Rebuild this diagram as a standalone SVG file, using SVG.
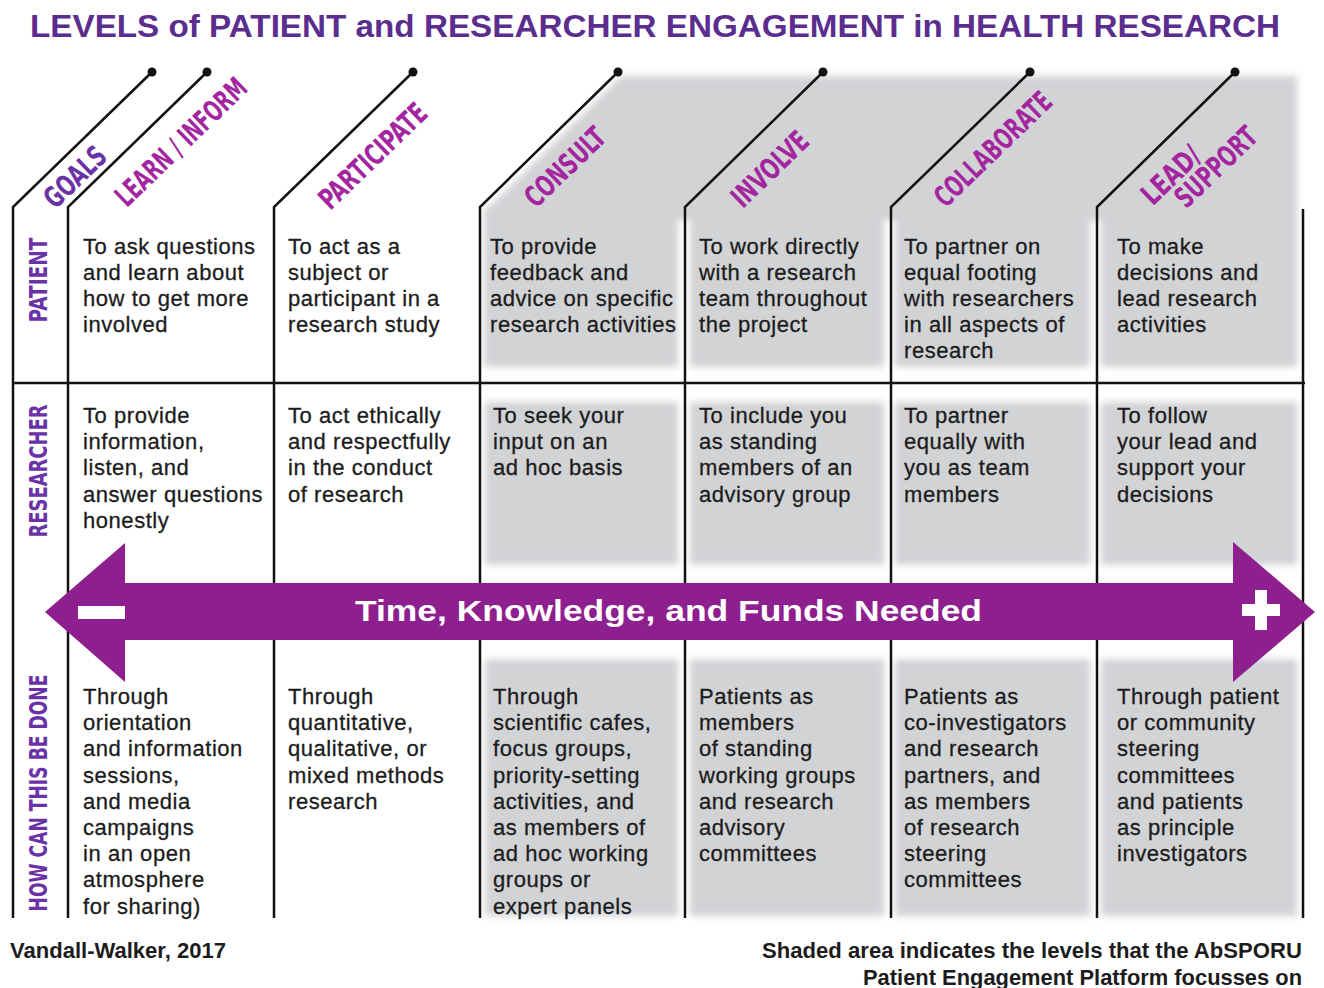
<svg xmlns="http://www.w3.org/2000/svg" width="1324" height="988" viewBox="0 0 1324 988">
<defs>
<filter id="soft" x="-5%" y="-5%" width="110%" height="110%"><feGaussianBlur stdDeviation="3.5"/></filter>
<style>
.body{font-family:"Liberation Sans",Arial,sans-serif;font-size:22px;letter-spacing:0.55px;fill:#1c1c1c;stroke:#1c1c1c;stroke-width:0.3}
.row{font-family:"DejaVu Sans Condensed","DejaVu Sans",sans-serif;font-weight:bold;font-size:25px;fill:#6a32a6}
.col{font-family:"DejaVu Sans Condensed","DejaVu Sans",sans-serif;font-weight:bold;font-size:29px;fill:#a3259f}
.ln{stroke:#111;stroke-width:2.5;fill:none}
.dot{fill:#111}
.foot{font-family:"Liberation Sans",Arial,sans-serif;font-weight:bold;font-size:21.5px;fill:#1c1c1c}
</style>
</defs>
<rect width="1324" height="988" fill="#fff"/>
<text x="30" y="37" font-family="Liberation Sans,Arial,sans-serif" font-weight="bold" font-size="32" fill="#5b2d8e" textLength="1250" lengthAdjust="spacingAndGlyphs">LEVELS of PATIENT and RESEARCHER ENGAGEMENT in HEALTH RESEARCH</text>

<g id="shading" fill="#d2d3d5" filter="url(#soft)">
<polygon points="484,212 621,76 1297,76 1297,220 484,220"/>
<rect x="484" y="207" width="194" height="160"/>
<rect x="690" y="207" width="194" height="160"/>
<rect x="895" y="207" width="195" height="160"/>
<rect x="1101" y="207" width="196" height="160"/>
<rect x="485" y="402" width="193" height="163"/>
<rect x="690" y="402" width="194" height="163"/>
<rect x="895" y="402" width="195" height="163"/>
<rect x="1101" y="402" width="196" height="163"/>
<rect x="485" y="659" width="193" height="257"/>
<rect x="690" y="659" width="194" height="257"/>
<rect x="895" y="659" width="195" height="257"/>
<rect x="1101" y="659" width="196" height="257"/>
</g>

<g id="connectors">
<polyline class="ln" points="13,918 13,207 152,72"/>
<polyline class="ln" points="68,918 68,207 207,72"/>
<polyline class="ln" points="274,918 274,207 413,72"/>
<polyline class="ln" points="480,918 480,207 618,72"/>
<polyline class="ln" points="685,918 685,207 823,72"/>
<polyline class="ln" points="891,918 891,207 1030,72"/>
<polyline class="ln" points="1097,918 1097,207 1235,72"/>
<line class="ln" x1="1303" y1="209" x2="1303" y2="918"/>
<line class="ln" x1="12" y1="383" x2="1305" y2="383"/>
<circle class="dot" cx="152" cy="72" r="4.5"/>
<circle class="dot" cx="207" cy="72" r="4.5"/>
<circle class="dot" cx="413" cy="72" r="4.5"/>
<circle class="dot" cx="618" cy="72" r="4.5"/>
<circle class="dot" cx="823" cy="72" r="4.5"/>
<circle class="dot" cx="1030" cy="72" r="4.5"/>
<circle class="dot" cx="1235" cy="72" r="4.5"/>
</g>

<g id="row-labels">
<text class="row" transform="translate(47,280) rotate(-90)" text-anchor="middle" textLength="85" lengthAdjust="spacingAndGlyphs">PATIENT</text>
<text class="row" transform="translate(47,471) rotate(-90)" text-anchor="middle" textLength="133" lengthAdjust="spacingAndGlyphs">RESEARCHER</text>
<text class="row" transform="translate(47,793) rotate(-90)" text-anchor="middle" textLength="237" lengthAdjust="spacingAndGlyphs">HOW CAN THIS BE DONE</text>
</g>

<g id="col-goals"><text class="col" style="fill:#6a32a6" transform="translate(75,177) rotate(-44)" dy="10" text-anchor="middle" textLength="74" lengthAdjust="spacingAndGlyphs">GOALS</text></g>
<g id="col-learn"><text class="col" transform="translate(181,142) rotate(-44)" dy="10" text-anchor="middle" textLength="170" lengthAdjust="spacingAndGlyphs">LEARN / INFORM</text></g>
<g id="col-participate"><text class="col" transform="translate(373,156) rotate(-44)" dy="10" text-anchor="middle" textLength="138" lengthAdjust="spacingAndGlyphs">PARTICIPATE</text></g>
<g id="col-consult"><text class="col" transform="translate(565,167) rotate(-44)" dy="10" text-anchor="middle" textLength="100" lengthAdjust="spacingAndGlyphs">CONSULT</text></g>
<g id="col-involve"><text class="col" transform="translate(770,169) rotate(-44)" dy="10" text-anchor="middle" textLength="95" lengthAdjust="spacingAndGlyphs">INVOLVE</text></g>
<g id="col-collaborate"><text class="col" transform="translate(993,149) rotate(-44)" dy="10" text-anchor="middle" textLength="151" lengthAdjust="spacingAndGlyphs">COLLABORATE</text></g>
<g id="col-lead"><text class="col" transform="translate(1171,175) rotate(-44)" dy="10" text-anchor="middle" textLength="70" lengthAdjust="spacingAndGlyphs">LEAD/</text>
<text class="col" transform="translate(1216,167) rotate(-44)" dy="10" text-anchor="middle" textLength="102" lengthAdjust="spacingAndGlyphs">SUPPORT</text></g>

<g id="patient-row" class="body">
<text x="83" y="254"><tspan x="83">To ask questions</tspan><tspan x="83" dy="26">and learn about</tspan><tspan x="83" dy="26">how to get more</tspan><tspan x="83" dy="26">involved</tspan></text>
<text x="288" y="254"><tspan x="288">To act as a</tspan><tspan x="288" dy="26">subject or</tspan><tspan x="288" dy="26">participant in a</tspan><tspan x="288" dy="26">research study</tspan></text>
<text x="490" y="254"><tspan x="490">To provide</tspan><tspan x="490" dy="26">feedback and</tspan><tspan x="490" dy="26">advice on specific</tspan><tspan x="490" dy="26">research activities</tspan></text>
<text x="699" y="254"><tspan x="699">To work directly</tspan><tspan x="699" dy="26">with a research</tspan><tspan x="699" dy="26">team throughout</tspan><tspan x="699" dy="26">the project</tspan></text>
<text x="904" y="254"><tspan x="904">To partner on</tspan><tspan x="904" dy="26">equal footing</tspan><tspan x="904" dy="26">with researchers</tspan><tspan x="904" dy="26">in all aspects of</tspan><tspan x="904" dy="26">research</tspan></text>
<text x="1117" y="254"><tspan x="1117">To make</tspan><tspan x="1117" dy="26">decisions and</tspan><tspan x="1117" dy="26">lead research</tspan><tspan x="1117" dy="26">activities</tspan></text>
</g>

<g id="researcher-row" class="body">
<text x="83" y="423"><tspan x="83">To provide</tspan><tspan x="83" dy="26.2">information,</tspan><tspan x="83" dy="26.2">listen, and</tspan><tspan x="83" dy="26.2">answer questions</tspan><tspan x="83" dy="26.2">honestly</tspan></text>
<text x="288" y="423"><tspan x="288">To act ethically</tspan><tspan x="288" dy="26.2">and respectfully</tspan><tspan x="288" dy="26.2">in the conduct</tspan><tspan x="288" dy="26.2">of research</tspan></text>
<text x="493" y="423"><tspan x="493">To seek your</tspan><tspan x="493" dy="26.2">input on an</tspan><tspan x="493" dy="26.2">ad hoc basis</tspan></text>
<text x="699" y="423"><tspan x="699">To include you</tspan><tspan x="699" dy="26.2">as standing</tspan><tspan x="699" dy="26.2">members of an</tspan><tspan x="699" dy="26.2">advisory group</tspan></text>
<text x="904" y="423"><tspan x="904">To partner</tspan><tspan x="904" dy="26.2">equally with</tspan><tspan x="904" dy="26.2">you as team</tspan><tspan x="904" dy="26.2">members</tspan></text>
<text x="1117" y="423"><tspan x="1117">To follow</tspan><tspan x="1117" dy="26.2">your lead and</tspan><tspan x="1117" dy="26.2">support your</tspan><tspan x="1117" dy="26.2">decisions</tspan></text>
</g>

<g id="how-row" class="body">
<text x="83" y="704"><tspan x="83">Through</tspan><tspan x="83" dy="26.2">orientation</tspan><tspan x="83" dy="26.2">and information</tspan><tspan x="83" dy="26.2">sessions,</tspan><tspan x="83" dy="26.2">and media</tspan><tspan x="83" dy="26.2">campaigns</tspan><tspan x="83" dy="26.2">in an open</tspan><tspan x="83" dy="26.2">atmosphere</tspan><tspan x="83" dy="26.2">for sharing)</tspan></text>
<text x="288" y="704"><tspan x="288">Through</tspan><tspan x="288" dy="26.2">quantitative,</tspan><tspan x="288" dy="26.2">qualitative, or</tspan><tspan x="288" dy="26.2">mixed methods</tspan><tspan x="288" dy="26.2">research</tspan></text>
<text x="493" y="704"><tspan x="493">Through</tspan><tspan x="493" dy="26.2">scientific cafes,</tspan><tspan x="493" dy="26.2">focus groups,</tspan><tspan x="493" dy="26.2">priority-setting</tspan><tspan x="493" dy="26.2">activities, and</tspan><tspan x="493" dy="26.2">as members of</tspan><tspan x="493" dy="26.2">ad hoc working</tspan><tspan x="493" dy="26.2">groups or</tspan><tspan x="493" dy="26.2">expert panels</tspan></text>
<text x="699" y="704"><tspan x="699">Patients as</tspan><tspan x="699" dy="26.2">members</tspan><tspan x="699" dy="26.2">of standing</tspan><tspan x="699" dy="26.2">working groups</tspan><tspan x="699" dy="26.2">and research</tspan><tspan x="699" dy="26.2">advisory</tspan><tspan x="699" dy="26.2">committees</tspan></text>
<text x="904" y="704"><tspan x="904">Patients as</tspan><tspan x="904" dy="26.2">co-investigators</tspan><tspan x="904" dy="26.2">and research</tspan><tspan x="904" dy="26.2">partners, and</tspan><tspan x="904" dy="26.2">as members</tspan><tspan x="904" dy="26.2">of research</tspan><tspan x="904" dy="26.2">steering</tspan><tspan x="904" dy="26.2">committees</tspan></text>
<text x="1117" y="704"><tspan x="1117">Through patient</tspan><tspan x="1117" dy="26.2">or community</tspan><tspan x="1117" dy="26.2">steering</tspan><tspan x="1117" dy="26.2">committees</tspan><tspan x="1117" dy="26.2">and patients</tspan><tspan x="1117" dy="26.2">as principle</tspan><tspan x="1117" dy="26.2">investigators</tspan></text>
</g>

<g id="arrow">
<polygon points="45,612 125,543 125,583 1233,583 1233,542 1315,612 1233,682 1233,640 125,640 125,682" fill="#8e1f8e"/>
<rect x="78" y="606" width="47" height="13" fill="#fff"/>
<rect x="1242" y="604" width="38" height="12" fill="#fff"/>
<rect x="1255" y="590" width="12" height="40" fill="#fff"/>
<text x="355" y="621" font-family="Liberation Sans,Arial,sans-serif" font-weight="bold" font-size="30" fill="#fff" textLength="627" lengthAdjust="spacingAndGlyphs">Time, Knowledge, and Funds Needed</text>
</g>

<g id="footer">
<text class="foot" x="10" y="958" textLength="216" lengthAdjust="spacingAndGlyphs">Vandall-Walker, 2017</text>
<text class="foot" x="762" y="958" textLength="540" lengthAdjust="spacingAndGlyphs">Shaded area indicates the levels that the AbSPORU</text>
<text class="foot" x="863" y="985" textLength="439" lengthAdjust="spacingAndGlyphs">Patient Engagement Platform focusses on</text>
</g>
</svg>
